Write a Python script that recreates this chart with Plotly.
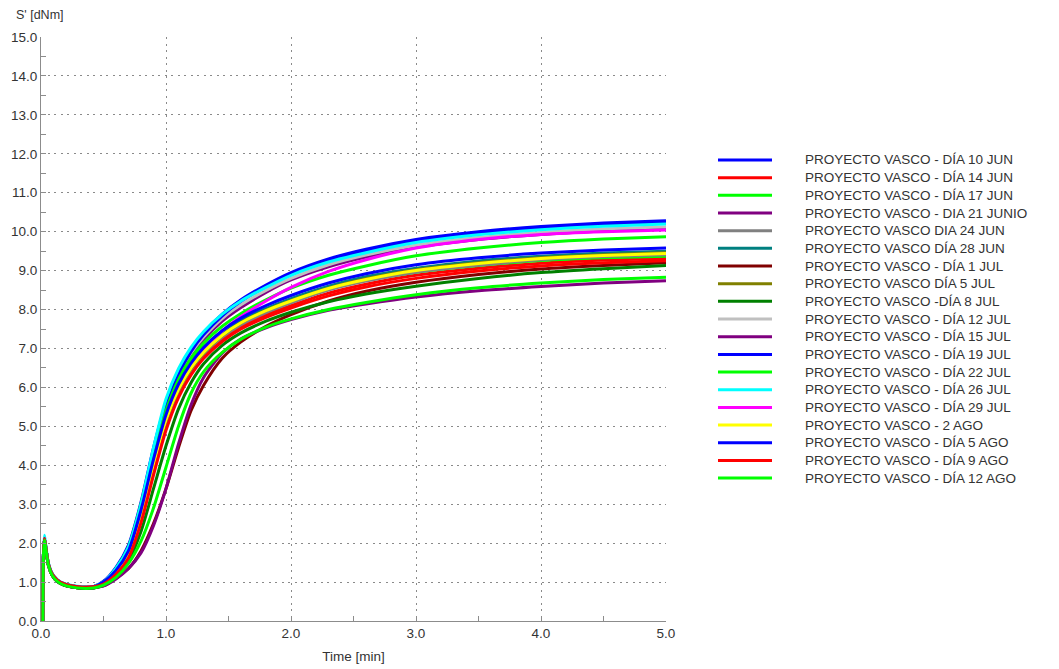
import plotly.graph_objects as go

# Sampling times of the rheometer runs (minutes)
time_min = [0.015, 0.02, 0.028, 0.04, 0.06, 0.09, 0.13, 0.18, 0.25, 0.33, 0.42,
            0.5, 0.6, 0.7, 0.8, 0.9, 1.0, 1.1, 1.2, 1.3, 1.45, 1.6, 1.8, 2.0,
            2.3, 2.6, 3.0, 3.5, 4.0, 4.5, 5.0]

# Elastic torque S' (dNm) for every batch
dia_10_jun = [0.0, 1.75, 2.12, 1.85, 1.45, 1.2, 1.05, 0.96, 0.9, 0.87, 0.88,
              1.02, 1.38, 1.95, 3.05, 4.45, 5.6, 6.4, 6.98, 7.4, 7.88, 8.25, 8.63, 8.95,
              9.3, 9.55, 9.8, 10.0, 10.13, 10.22, 10.28]
dia_14_jun = [0.0, 1.75, 2.12, 1.85, 1.45, 1.2, 1.05, 0.96, 0.9, 0.87, 0.88,
              0.96, 1.22, 1.65, 2.6, 3.85, 5.0, 5.82, 6.39, 6.8, 7.24, 7.56, 7.86, 8.1,
              8.42, 8.65, 8.88, 9.06, 9.19, 9.27, 9.31]
dia_17_jun = [0.0, 1.75, 2.12, 1.85, 1.45, 1.2, 1.05, 0.96, 0.9, 0.87, 0.88,
              1.0, 1.35, 1.9, 3.0, 4.35, 5.45, 6.18, 6.68, 7.04, 7.45, 7.74, 8.02, 8.24,
              8.53, 8.75, 8.96, 9.13, 9.26, 9.33, 9.37]
dia_21_jun = [0.0, 1.75, 2.12, 1.85, 1.45, 1.2, 1.05, 0.96, 0.9, 0.87, 0.88,
              0.98, 1.3, 1.8, 2.82, 4.2, 5.4, 6.23, 6.8, 7.22, 7.7, 8.05, 8.44, 8.76,
              9.1, 9.35, 9.6, 9.8, 9.93, 10.02, 10.07]
dia_24_jun = [0.0, 1.7, 2.08, 1.82, 1.42, 1.17, 1.02, 0.93, 0.87, 0.84, 0.85,
              0.96, 1.23, 1.68, 2.65, 3.92, 5.08, 5.88, 6.44, 6.85, 7.29, 7.61, 7.92, 8.17,
              8.5, 8.73, 8.96, 9.14, 9.28, 9.36, 9.41]
dia_28_jun = [0.0, 1.75, 2.12, 1.85, 1.45, 1.2, 1.05, 0.96, 0.9, 0.87, 0.88,
              0.98, 1.27, 1.75, 2.75, 4.05, 5.2, 5.98, 6.53, 6.93, 7.38, 7.7, 8.02, 8.28,
              8.6, 8.84, 9.06, 9.25, 9.37, 9.45, 9.5]
dia_1_jul = [0.0, 1.7, 2.08, 1.82, 1.42, 1.17, 1.02, 0.93, 0.87, 0.84, 0.85,
             0.9, 1.1, 1.35, 1.8, 2.5, 3.4, 4.45, 5.4, 6.05, 6.75, 7.17, 7.57, 7.87,
             8.22, 8.47, 8.7, 8.9, 9.04, 9.13, 9.2]
dia_5_jul = [0.0, 1.7, 2.08, 1.82, 1.42, 1.17, 1.02, 0.93, 0.87, 0.84, 0.85,
             0.97, 1.25, 1.72, 2.7, 4.0, 5.15, 5.93, 6.48, 6.88, 7.33, 7.66, 7.98, 8.23,
             8.55, 8.79, 9.02, 9.2, 9.33, 9.41, 9.46]
dia_8_jul = [0.0, 1.7, 2.08, 1.82, 1.42, 1.17, 1.02, 0.93, 0.87, 0.84, 0.85,
             0.93, 1.15, 1.55, 2.3, 3.4, 4.5, 5.45, 6.12, 6.6, 7.08, 7.4, 7.7, 7.93,
             8.2, 8.4, 8.6, 8.8, 8.95, 9.05, 9.13]
dia_12_jul = [0.0, 1.75, 2.12, 1.85, 1.45, 1.2, 1.05, 0.96, 0.9, 0.87, 0.88,
              1.0, 1.32, 1.85, 2.9, 4.3, 5.5, 6.32, 6.88, 7.29, 7.77, 8.12, 8.49, 8.8,
              9.15, 9.4, 9.65, 9.85, 9.98, 10.07, 10.12]
dia_15_jul = [0.0, 1.7, 2.08, 1.82, 1.42, 1.17, 1.02, 0.93, 0.87, 0.84, 0.85,
              0.9, 1.08, 1.35, 1.75, 2.45, 3.4, 4.55, 5.55, 6.25, 6.88, 7.25, 7.53, 7.74,
              7.98, 8.14, 8.32, 8.48, 8.59, 8.68, 8.74]
dia_19_jul = [0.0, 1.75, 2.12, 1.85, 1.45, 1.2, 1.05, 0.96, 0.9, 0.87, 0.88,
              1.0, 1.33, 1.85, 2.9, 4.3, 5.5, 6.33, 6.92, 7.35, 7.84, 8.21, 8.59, 8.9,
              9.25, 9.5, 9.76, 9.96, 10.09, 10.18, 10.24]
dia_22_jul = [0.0, 1.75, 2.12, 1.85, 1.45, 1.2, 1.05, 0.96, 0.9, 0.87, 0.88,
              1.0, 1.3, 1.82, 2.85, 4.2, 5.4, 6.2, 6.75, 7.14, 7.57, 7.9, 8.25, 8.55,
              8.88, 9.12, 9.38, 9.58, 9.72, 9.81, 9.87]
dia_26_jul = [0.0, 1.8, 2.2, 1.9, 1.48, 1.22, 1.06, 0.97, 0.91, 0.88, 0.89,
              1.0, 1.35, 1.9, 3.0, 4.45, 5.7, 6.48, 7.03, 7.43, 7.88, 8.22, 8.57, 8.88,
              9.22, 9.46, 9.72, 9.92, 10.05, 10.14, 10.2]
dia_29_jul = [0.0, 1.75, 2.12, 1.85, 1.45, 1.2, 1.05, 0.96, 0.9, 0.87, 0.88,
              0.97, 1.25, 1.72, 2.72, 4.05, 5.2, 6.0, 6.56, 6.98, 7.45, 7.82, 8.22, 8.57,
              8.98, 9.28, 9.58, 9.8, 9.93, 10.0, 10.04]
dia_2_ago = [0.0, 1.75, 2.12, 1.85, 1.45, 1.2, 1.05, 0.96, 0.9, 0.87, 0.88,
             0.97, 1.25, 1.72, 2.72, 4.02, 5.17, 5.95, 6.5, 6.9, 7.34, 7.66, 7.97, 8.22,
             8.54, 8.77, 9.0, 9.18, 9.31, 9.39, 9.44]
dia_5_ago = [0.0, 1.75, 2.12, 1.85, 1.45, 1.2, 1.05, 0.96, 0.9, 0.87, 0.88,
             1.0, 1.3, 1.8, 2.85, 4.15, 5.3, 6.08, 6.62, 7.02, 7.46, 7.78, 8.1, 8.36,
             8.68, 8.92, 9.15, 9.33, 9.45, 9.53, 9.58]
dia_9_ago = [0.0, 1.75, 2.12, 1.85, 1.45, 1.2, 1.05, 0.96, 0.9, 0.87, 0.88,
             0.95, 1.2, 1.62, 2.52, 3.75, 4.9, 5.74, 6.32, 6.74, 7.18, 7.5, 7.8, 8.04,
             8.35, 8.58, 8.8, 8.99, 9.12, 9.2, 9.25]
dia_12_ago = [0.0, 1.7, 2.08, 1.82, 1.42, 1.17, 1.02, 0.93, 0.87, 0.84, 0.85,
              0.92, 1.12, 1.48, 2.05, 2.9, 3.95, 5.0, 5.85, 6.4, 6.9, 7.24, 7.55, 7.76,
              8.0, 8.18, 8.38, 8.56, 8.68, 8.77, 8.83]

series_names = [
    "PROYECTO VASCO - DÍA 10 JUN",
    "PROYECTO VASCO - DÍA 14 JUN",
    "PROYECTO VASCO - DÍA 17 JUN",
    "PROYECTO VASCO - DIA 21 JUNIO",
    "PROYECTO VASCO DIA 24 JUN",
    "PROYECTO VASCO DÍA 28 JUN",
    "PROYECTO VASCO - DÍA 1 JUL",
    "PROYECTO VASCO DÍA 5 JUL",
    "PROYECTO VASCO -DÍA 8 JUL",
    "PROYECTO VASCO - DÍA 12 JUL",
    "PROYECTO VASCO - DÍA 15 JUL",
    "PROYECTO VASCO - DÍA 19 JUL",
    "PROYECTO VASCO - DÍA 22 JUL",
    "PROYECTO VASCO - DÍA 26 JUL",
    "PROYECTO VASCO - DÍA 29 JUL",
    "PROYECTO VASCO - 2 AGO",
    "PROYECTO VASCO - DÍA 5 AGO",
    "PROYECTO VASCO - DÍA 9 AGO",
    "PROYECTO VASCO - DÍA 12 AGO",
]
series_values = [
    dia_10_jun, dia_14_jun, dia_17_jun, dia_21_jun, dia_24_jun, dia_28_jun,
    dia_1_jul, dia_5_jul, dia_8_jul, dia_12_jul, dia_15_jul, dia_19_jul,
    dia_22_jul, dia_26_jul, dia_29_jul, dia_2_ago, dia_5_ago, dia_9_ago, dia_12_ago,
]
series_colors = [
    "#0000FF", "#FF0000", "#00FF00", "#800080", "#808080", "#008080",
    "#800000", "#808000", "#008000", "#C0C0C0", "#800080", "#0000FF",
    "#00FF00", "#00FFFF", "#FF00FF", "#FFFF00", "#0000FF", "#FF0000", "#00FF00",
]

FONT = "Liberation Sans, Arial, Helvetica, sans-serif"
TEXT_COLOR = "#333333"
AXIS_COLOR = "#8c8c8c"
GRID_COLOR = "#8a8a8a"

fig = go.Figure()
for name, values, color in zip(series_names, series_values, series_colors):
    fig.add_trace(go.Scatter(
        x=time_min, y=values, name=name, mode="lines",
        line=dict(color=color, width=3, shape="spline", smoothing=0.7),
        showlegend=False,
    ))

# Legend drawn beside the plot: a coloured stroke and the batch name per row
leg_top, leg_step = 0.7894, 0.03026
leg_x0, leg_x1, leg_text_x = 1.0832, 1.1696, 1.2192
shapes, annotations = [], []
for i, (name, color) in enumerate(zip(series_names, series_colors)):
    y = leg_top - i * leg_step
    shapes.append(dict(type="line", xref="paper", yref="paper",
                       x0=leg_x0, x1=leg_x1, y0=y, y1=y,
                       line=dict(color=color, width=3)))
    annotations.append(dict(xref="paper", yref="paper", x=leg_text_x, y=y,
                            xanchor="left", yanchor="middle", text=name,
                            showarrow=False,
                            font=dict(family=FONT, size=13.5, color=TEXT_COLOR)))

annotations.append(dict(xref="paper", yref="paper", x=-0.043, y=1.038,
                        xanchor="left", yanchor="middle", text="S' [dNm]",
                        showarrow=False,
                        font=dict(family=FONT, size=12.5, color=TEXT_COLOR)))

axis_common = dict(
    showline=True, linecolor=AXIS_COLOR, linewidth=1,
    showgrid=True, gridcolor=GRID_COLOR, gridwidth=1.3, griddash="2px,4.5px",
    zeroline=False, ticks="inside", ticklen=5, tickcolor=AXIS_COLOR,
    tickformat=".1f", automargin=False,
    tickfont=dict(family=FONT, size=13.5, color=TEXT_COLOR),
    minor=dict(dtick=0.5, ticks="inside", ticklen=5, tickcolor=AXIS_COLOR,
               showgrid=False),
)

fig.update_layout(
    width=1059, height=669,
    margin=dict(l=41, r=393, t=37, b=48),
    paper_bgcolor="white", plot_bgcolor="white",
    font=dict(family=FONT, color=TEXT_COLOR),
    xaxis=dict(range=[0, 5], dtick=1, tick0=0,
               title=dict(text="Time [min]", standoff=11,
                          font=dict(family=FONT, size=13.5, color=TEXT_COLOR)),
               **axis_common),
    yaxis=dict(range=[0, 15], dtick=1, tick0=0, **axis_common),
    shapes=shapes,
    annotations=annotations,
)

fig.write_html("out.html")
